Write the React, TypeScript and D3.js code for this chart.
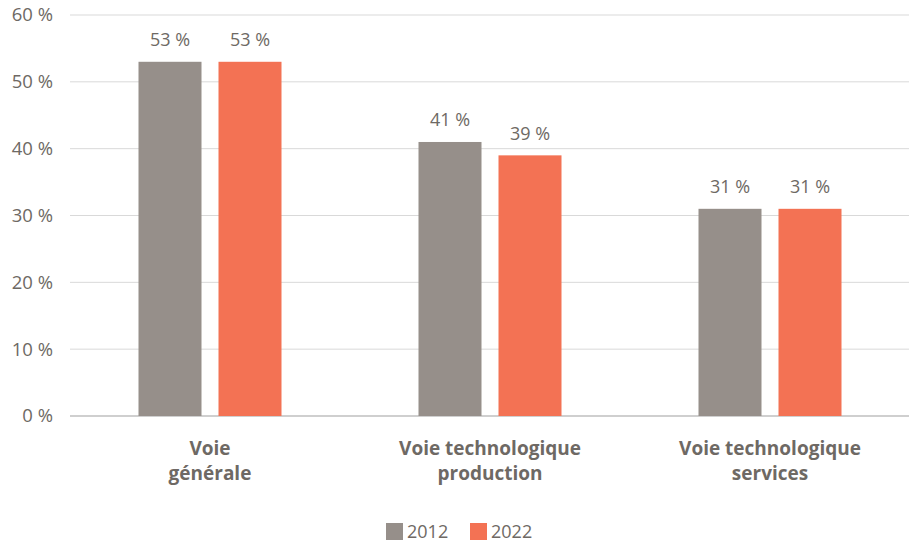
import React from "react";
import * as d3 from "d3";

const categories: string[][] = [["Voie", "générale"], ["Voie technologique", "production"], ["Voie technologique", "services"]];
const series = ["2012", "2022"];
const values2012 = [53, 41, 31];
const values2022 = [53, 39, 31];
const yTicks = [0, 10, 20, 30, 40, 50, 60];
const colors = ["#968f8a", "#f37254"];

export default function App() {
  const W = 909, H = 543;
  const left = 70, right = 910, top = 15, bottom = 416;
  const x = d3.scaleBand<number>().domain([0, 1, 2]).range([left, right]);
  const y = d3.scaleLinear().domain([0, 60]).range([bottom, top]);
  const barW = 63, gap = 17;
  const font = "'Open Sans', sans-serif";
  const textColor = "#6e6964";
  const data = [values2012, values2022];
  return (
    <svg width={W} height={H} style={{ position: "absolute", left: 0, top: 0 }} fontFamily={font}>
      {yTicks.map((t) => (
        <g key={t}>
          <line x1={left} x2={W} y1={y(t)} y2={y(t)} stroke={t === 0 ? "#cfcfcf" : "#d9d9d9"} strokeWidth={t === 0 ? 2 : 1} />
          <text x={53} y={y(t)} dy="0.35em" textAnchor="end" fontSize={18.5} fill={textColor}>{t}{" "}%</text>
        </g>
      ))}
      {categories.map((c, i) => {
        const cx = (x(i) as number) + x.bandwidth() / 2;
        return (
          <g key={i}>
            {data.map((vals, s) => {
              const bx = s === 0 ? cx - gap / 2 - barW : cx + gap / 2;
              return (
                <g key={s}>
                  <rect x={bx} y={y(vals[i])} width={barW} height={bottom - y(vals[i])} fill={colors[s]} />
                  <text x={bx + barW / 2} y={y(vals[i]) - 22} dy="0.35em" textAnchor="middle" fontSize={18} fill={textColor}>{vals[i]}{" "}%</text>
                </g>
              );
            })}
            {c.map((line, k) => (
              <text key={k} x={cx} y={448 + k * 25} dy="0.35em" textAnchor="middle" fontSize={19} fontWeight={700} fill={textColor}>{line}</text>
            ))}
          </g>
        );
      })}
      {series.map((s, i) => (
        <g key={s} transform={`translate(${386 + i * 84},523)`}>
          <rect x={0} y={0} width={17} height={17} fill={colors[i]} />
          <text x={21} y={9} dy="0.35em" fontSize={18} fill={textColor}>{s}</text>
        </g>
      ))}
    </svg>
  );
}
